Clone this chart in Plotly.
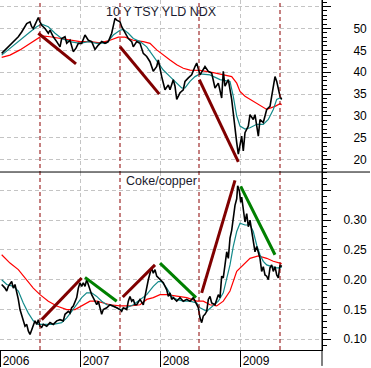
import plotly.graph_objects as go

# ---------------- data (decimal years) ----------------
tsy_x = [2006.021, 2006.084, 2006.166, 2006.229, 2006.271, 2006.334, 2006.375, 2006.396, 2006.416, 2006.459,
         2006.479, 2006.5, 2006.521, 2006.5625, 2006.604, 2006.625, 2006.666, 2006.709, 2006.75, 2006.771,
         2006.8125, 2006.834, 2006.875, 2006.916, 2006.95, 2006.979, 2007.021, 2007.0625, 2007.104, 2007.146,
         2007.1875, 2007.229, 2007.271, 2007.3125, 2007.354, 2007.396, 2007.416, 2007.4375, 2007.459, 2007.5,
         2007.521, 2007.5625, 2007.604, 2007.646, 2007.666, 2007.709, 2007.75, 2007.791, 2007.834, 2007.875,
         2007.916, 2007.959, 2007.979, 2008.021, 2008.0625, 2008.104, 2008.125, 2008.166, 2008.1875, 2008.209,
         2008.25, 2008.291, 2008.3125, 2008.354, 2008.396, 2008.4375, 2008.459, 2008.5, 2008.541, 2008.5625,
         2008.604, 2008.646, 2008.6875, 2008.729, 2008.771, 2008.791, 2008.8125, 2008.854, 2008.896, 2008.916,
         2008.9375, 2008.959, 2008.979, 2009.0, 2009.021, 2009.041, 2009.0625, 2009.104, 2009.125, 2009.166,
         2009.1875, 2009.229, 2009.25, 2009.291, 2009.334, 2009.375, 2009.396, 2009.416, 2009.4375, 2009.459,
         2009.479, 2009.5, 2009.521]
tsy_y = [44.3, 45.5, 47.0, 48.1, 49.2, 51.1, 51.5, 50.4, 50.0, 51.9,
         52.5, 51.5, 50.7, 50.0, 48.9, 49.6, 48.1, 47.0, 45.8, 47.7,
         48.1, 46.6, 47.3, 44.7, 45.5, 46.6, 46.6, 48.5, 47.3, 47.0,
         45.2, 46.2, 47.0, 46.6, 47.0, 48.9, 50.7, 52.3, 51.9, 51.5,
         50.4, 48.9, 47.7, 47.0, 45.8, 47.0, 46.6, 44.3, 43.6, 42.4,
         40.2, 41.3, 42.8, 39.0, 36.0, 37.1, 36.0, 38.3, 36.8, 33.8,
         35.3, 36.0, 37.9, 38.7, 39.4, 41.3, 42.1, 39.4, 40.5, 41.3,
         40.2, 39.8, 36.4, 37.5, 34.1, 40.2, 36.8, 38.3, 33.8, 30.7,
         26.2, 23.9, 21.3, 23.2, 25.4, 22.0, 26.2, 27.7, 30.3, 29.2,
         30.3, 25.4, 29.2, 28.5, 31.5, 32.2, 34.5, 36.8, 39.0, 37.9,
         36.4, 34.5, 33.8]

tsy_ma_short_x = [2006.021, 2006.125, 2006.25, 2006.375, 2006.459, 2006.521, 2006.604, 2006.6875, 2006.771, 2006.875,
                  2007.0, 2007.104, 2007.209, 2007.334, 2007.416, 2007.5, 2007.541, 2007.604, 2007.666, 2007.75,
                  2007.834, 2007.916, 2007.979, 2008.041, 2008.125, 2008.209, 2008.271, 2008.3125, 2008.375, 2008.4375,
                  2008.5, 2008.625, 2008.75, 2008.875, 2008.916, 2008.959, 2009.0, 2009.0625, 2009.125, 2009.209,
                  2009.291, 2009.354, 2009.416, 2009.459, 2009.5, 2009.521]
tsy_ma_short_y = [43.9, 45.5, 47.3, 49.2, 50.4, 51.0, 50.4, 48.9, 47.7, 47.0,
                  46.6, 47.0, 46.6, 46.7, 48.5, 49.6, 49.8, 48.9, 47.7, 47.0,
                  45.8, 43.6, 42.1, 40.5, 39.0, 37.5, 36.4, 36.4, 37.9, 39.0,
                  39.6, 39.4, 38.3, 37.9, 34.5, 30.0, 27.7, 27.0, 27.3, 28.1,
                  28.1, 29.2, 31.5, 33.8, 34.1, 33.8]

tsy_ma_long_x = [2006.021, 2006.125, 2006.25, 2006.375, 2006.459, 2006.521, 2006.625, 2006.75, 2006.875, 2007.0,
                 2007.125, 2007.25, 2007.375, 2007.479, 2007.5625, 2007.666, 2007.791, 2007.875, 2007.959, 2008.041,
                 2008.125, 2008.209, 2008.291, 2008.375, 2008.5, 2008.666, 2008.791, 2008.896, 2008.959, 2009.0,
                 2009.0625, 2009.166, 2009.291, 2009.334, 2009.4375, 2009.5, 2009.521]
tsy_ma_long_y = [43.4, 43.9, 45.1, 46.6, 47.7, 48.3, 48.1, 47.7, 47.3, 47.0,
                 47.0, 46.7, 47.3, 48.0, 48.0, 47.3, 47.0, 46.6, 45.1, 43.9,
                 42.8, 41.7, 40.9, 40.5, 40.4, 39.9, 39.4, 39.0, 37.5, 35.6,
                 34.5, 33.4, 32.1, 31.5, 32.2, 32.8, 32.6]

cc_x = [2006.021, 2006.0625, 2006.084, 2006.104, 2006.146, 2006.166, 2006.1875, 2006.209, 2006.229, 2006.25,
        2006.271, 2006.291, 2006.3125, 2006.334, 2006.354, 2006.375, 2006.396, 2006.416, 2006.4375, 2006.459,
        2006.479, 2006.5, 2006.521, 2006.541, 2006.584, 2006.625, 2006.666, 2006.709, 2006.75, 2006.791,
        2006.8125, 2006.854, 2006.875, 2006.896, 2006.916, 2006.959, 2006.979, 2007.0, 2007.021, 2007.041,
        2007.0625, 2007.084, 2007.104, 2007.125, 2007.146, 2007.1875, 2007.209, 2007.229, 2007.25, 2007.271,
        2007.291, 2007.334, 2007.375, 2007.416, 2007.459, 2007.5, 2007.521, 2007.541, 2007.584, 2007.604,
        2007.625, 2007.646, 2007.666, 2007.6875, 2007.709, 2007.75, 2007.791, 2007.8125, 2007.834, 2007.854,
        2007.875, 2007.896, 2007.916, 2007.9375, 2007.959, 2008.0, 2008.041, 2008.084, 2008.104, 2008.125,
        2008.146, 2008.166, 2008.209, 2008.25, 2008.291, 2008.334, 2008.375, 2008.416, 2008.4375, 2008.459,
        2008.479, 2008.5, 2008.521, 2008.541, 2008.5625, 2008.584, 2008.604, 2008.625, 2008.646, 2008.6875,
        2008.709, 2008.729, 2008.75, 2008.771, 2008.791, 2008.8125, 2008.834, 2008.854, 2008.875, 2008.896,
        2008.916, 2008.9375, 2008.959, 2008.971, 2008.991, 2009.009, 2009.021, 2009.041, 2009.0625, 2009.084,
        2009.104, 2009.125, 2009.146, 2009.166, 2009.1875, 2009.209, 2009.229, 2009.25, 2009.271, 2009.291,
        2009.3125, 2009.334, 2009.354, 2009.375, 2009.396, 2009.416, 2009.4375, 2009.459, 2009.479, 2009.5,
        2009.521]
cc_y = [0.192, 0.186, 0.181, 0.189, 0.197, 0.186, 0.192, 0.181, 0.167, 0.150,
        0.139, 0.131, 0.122, 0.125, 0.114, 0.108, 0.117, 0.125, 0.131, 0.125,
        0.133, 0.122, 0.120, 0.125, 0.122, 0.128, 0.125, 0.131, 0.133, 0.131,
        0.142, 0.147, 0.144, 0.153, 0.156, 0.170, 0.186, 0.195, 0.189, 0.195,
        0.189, 0.200, 0.192, 0.183, 0.175, 0.164, 0.158, 0.164, 0.150, 0.142,
        0.150, 0.153, 0.158, 0.156, 0.153, 0.150, 0.147, 0.153, 0.150, 0.164,
        0.172, 0.164, 0.167, 0.158, 0.158, 0.167, 0.158, 0.172, 0.189, 0.200,
        0.211, 0.220, 0.211, 0.217, 0.206, 0.200, 0.195, 0.183, 0.172, 0.178,
        0.167, 0.170, 0.164, 0.170, 0.164, 0.167, 0.164, 0.170, 0.164, 0.156,
        0.153, 0.136, 0.128, 0.139, 0.142, 0.147, 0.167, 0.172, 0.161, 0.158,
        0.169, 0.175, 0.170, 0.206, 0.203, 0.231, 0.247, 0.236, 0.270, 0.283,
        0.309, 0.325, 0.336, 0.358, 0.350, 0.330, 0.339, 0.314, 0.297, 0.311,
        0.289, 0.300, 0.281, 0.264, 0.247, 0.256, 0.245, 0.236, 0.214, 0.222,
        0.208, 0.206, 0.200, 0.220, 0.225, 0.214, 0.222, 0.208, 0.203, 0.225,
        0.222]

cc_ma_short_x = [2006.021, 2006.084, 2006.166, 2006.229, 2006.291, 2006.354, 2006.416, 2006.479, 2006.5625, 2006.666,
                 2006.771, 2006.834, 2006.896, 2006.959, 2007.021, 2007.084, 2007.146, 2007.209, 2007.271, 2007.334,
                 2007.416, 2007.5, 2007.584, 2007.666, 2007.75, 2007.834, 2007.916, 2007.979, 2008.021, 2008.084,
                 2008.146, 2008.209, 2008.291, 2008.375, 2008.459, 2008.5, 2008.584, 2008.666, 2008.729, 2008.791,
                 2008.834, 2008.875, 2008.916, 2008.959, 2009.0, 2009.0625, 2009.125, 2009.166, 2009.209, 2009.25,
                 2009.291, 2009.334, 2009.396, 2009.459, 2009.5, 2009.521]
cc_ma_short_y = [0.200, 0.192, 0.189, 0.181, 0.161, 0.144, 0.131, 0.125, 0.125, 0.125,
                 0.128, 0.136, 0.147, 0.158, 0.170, 0.178, 0.178, 0.172, 0.164, 0.158,
                 0.156, 0.150, 0.153, 0.158, 0.167, 0.175, 0.189, 0.197, 0.197, 0.186,
                 0.172, 0.167, 0.164, 0.164, 0.161, 0.153, 0.147, 0.156, 0.164, 0.178,
                 0.200, 0.225, 0.256, 0.281, 0.295, 0.292, 0.292, 0.281, 0.258, 0.242,
                 0.231, 0.225, 0.222, 0.220, 0.220, 0.222]

cc_ma_long_x = [2006.021, 2006.125, 2006.229, 2006.334, 2006.416, 2006.5, 2006.604, 2006.709, 2006.834, 2006.9375,
                2007.041, 2007.125, 2007.209, 2007.291, 2007.375, 2007.5, 2007.625, 2007.75, 2007.834, 2007.916,
                2008.0, 2008.084, 2008.209, 2008.334, 2008.459, 2008.541, 2008.625, 2008.709, 2008.791, 2008.875,
                2008.959, 2009.041, 2009.125, 2009.229, 2009.334, 2009.416, 2009.5, 2009.521]
cc_ma_long_y = [0.242, 0.228, 0.217, 0.200, 0.186, 0.175, 0.164, 0.156, 0.150, 0.150,
                0.158, 0.164, 0.164, 0.161, 0.158, 0.156, 0.156, 0.158, 0.167, 0.170,
                0.175, 0.175, 0.172, 0.170, 0.164, 0.164, 0.158, 0.156, 0.164, 0.181,
                0.214, 0.225, 0.236, 0.240, 0.236, 0.231, 0.228, 0.227]

# hand-drawn trend lines: (x0, y0, x1, y1)
tsy_down_lines = [(2006.479, 48.9, 2006.95, 41.9),
                  (2007.5, 45.8, 2007.991, 35.0),
                  (2008.491, 38.3, 2008.979, 19.5)]
cc_up_lines = [(2006.521, 0.133, 2007.021, 0.203),
               (2007.534, 0.171, 2007.9375, 0.225),
               (2008.521, 0.178, 2008.9375, 0.367)]
cc_down_lines = [(2007.0625, 0.204, 2007.459, 0.164),
                 (2008.0, 0.228, 2008.45, 0.170),
                 (2009.009, 0.357, 2009.4375, 0.242)]

marker_years = [2006.5, 2007.5, 2008.4875, 2009.5]
year_ticks = [2006, 2007, 2008, 2009]
year_labels = ["2006", "2007", "2008", "2009"]
tsy_ticks = [20, 25, 30, 35, 40, 45, 50, 55]
tsy_labels = ["20", "25", "30", "35", "40", "45", "50", ""]
cc_ticks = [0.10, 0.15, 0.20, 0.25, 0.30, 0.35]
cc_labels = ["0.10", "0.15", "0.20", "0.25", "0.30", ""]

# ---------------- figure ----------------
W, H = 371, 368
ML, MR, MT, MB = 0, 49, 0, 16
plot_h = H - MT - MB
split = 1 - 173 / plot_h
x_range = [2006.0, 2010.025]

TEAL = "#138a8a"
RED = "#ff0000"
MAROON = "#800000"
GREEN = "#008000"
GRID = "#c4c4c4"
FONT = "Arial, Liberation Sans, sans-serif"

fig = go.Figure()

def add_series(x, y, color, width, yaxis, xaxis):
    fig.add_trace(go.Scatter(x=x, y=y, mode="lines", line=dict(color=color, width=width),
                             xaxis=xaxis, yaxis=yaxis, showlegend=False, hoverinfo="skip"))

# top panel
add_series(tsy_ma_long_x, tsy_ma_long_y, RED, 1.2, "y2", "x2")
add_series(tsy_ma_short_x, tsy_ma_short_y, TEAL, 1.2, "y2", "x2")
add_series(tsy_x, tsy_y, "black", 1.6, "y2", "x2")
for x0, y0, x1, y1 in tsy_down_lines:
    add_series([x0, x1], [y0, y1], MAROON, 3, "y2", "x2")

# bottom panel
add_series(cc_ma_long_x, cc_ma_long_y, RED, 1.2, "y", "x")
add_series(cc_ma_short_x, cc_ma_short_y, TEAL, 1.2, "y", "x")
add_series(cc_x, cc_y, "black", 1.6, "y", "x")
for x0, y0, x1, y1 in cc_up_lines:
    add_series([x0, x1], [y0, y1], MAROON, 3, "y", "x")
for x0, y0, x1, y1 in cc_down_lines:
    add_series([x0, x1], [y0, y1], GREEN, 3, "y", "x")

shapes = []
for xv in marker_years:
    shapes.append(dict(type="line", xref="x", yref="paper", x0=xv, x1=xv, y0=0, y1=1,
                       line=dict(color="#8b0000", width=1, dash="4px,3px"), layer="above"))
# separator between panels, extends past the axis
shapes.append(dict(type="line", xref="paper", yref="paper", x0=0, x1=370 / (W - ML - MR),
                   y0=split, y1=split, line=dict(color="black", width=1)))
# right axis line extending into the date strip
shapes.append(dict(type="line", xref="paper", yref="paper", x0=1, x1=1,
                   y0=-MB / plot_h, y1=1, line=dict(color="black", width=1)))

fig.update_layout(
    width=W, height=H,
    margin=dict(l=ML, r=MR, t=MT, b=MB, pad=0),
    paper_bgcolor="white", plot_bgcolor="white",
    font=dict(family=FONT, size=12, color="black"),
    showlegend=False,
    shapes=shapes,
    xaxis=dict(domain=[0, 1], range=x_range, anchor="y",
               tickmode="array", tickvals=[v + 0.2 for v in year_ticks], ticktext=year_labels,
               ticks="", showgrid=False, showline=True, linecolor="black", linewidth=1,
               tickfont=dict(size=12, color="black", family=FONT), zeroline=False,
               minor=dict(tickmode="array", tickvals=year_ticks, ticks="outside", ticklen=16,
                          tickcolor="black", tickwidth=1, showgrid=True, gridcolor=GRID,
                          griddash="4px,3px", gridwidth=1)),
    xaxis2=dict(domain=[0, 1], range=x_range, anchor="y2", matches="x",
                tickmode="array", tickvals=year_ticks, showticklabels=False, ticks="",
                showgrid=True, gridcolor=GRID, griddash="4px,3px", gridwidth=1,
                showline=False, zeroline=False),
    yaxis=dict(domain=[0, split], range=[0.082, 0.381], side="right", anchor="x",
               tickmode="array", tickvals=cc_ticks, ticktext=cc_labels,
               ticks="outside", ticklen=8, tickcolor="black", tickwidth=1,
               ticklabelstandoff=10,
               showgrid=True, gridcolor=GRID, griddash="4px,3px", gridwidth=1,
               showline=True, linecolor="black", linewidth=1, zeroline=False,
               tickfont=dict(size=12, color="black", family=FONT),
               minor=dict(dtick=0.01, tick0=0, ticks="outside", ticklen=4, tickcolor="black",
                          showgrid=False)),
    yaxis2=dict(domain=[split, 1], range=[17.2, 56.5], side="right", anchor="x2",
                tickmode="array", tickvals=tsy_ticks, ticktext=tsy_labels,
                ticks="outside", ticklen=8, tickcolor="black", tickwidth=1,
                ticklabelstandoff=20,
                showgrid=True, gridcolor=GRID, griddash="4px,3px", gridwidth=1,
                showline=True, linecolor="black", linewidth=1, zeroline=False,
                tickfont=dict(size=12, color="black", family=FONT),
                minor=dict(dtick=1, tick0=0, ticks="outside", ticklen=4, tickcolor="black",
                           showgrid=False)),
    annotations=[
        dict(text="10 Y TSY YLD NDX", xref="paper", yref="paper", x=0.5, y=1 - 12 / plot_h,
             xanchor="center", yanchor="middle", showarrow=False,
             font=dict(size=12.5, color="#1a1a2e", family=FONT)),
        dict(text="Coke/copper", xref="paper", yref="paper", x=0.503, y=split - 9.5 / plot_h,
             xanchor="center", yanchor="middle", showarrow=False,
             font=dict(size=12.5, color="#1a1a2e", family=FONT)),
    ],
)

fig.write_html("out.html", config={"displayModeBar": False, "staticPlot": True},
               post_script="document.body.style.margin='0';document.body.style.overflow='hidden';")
